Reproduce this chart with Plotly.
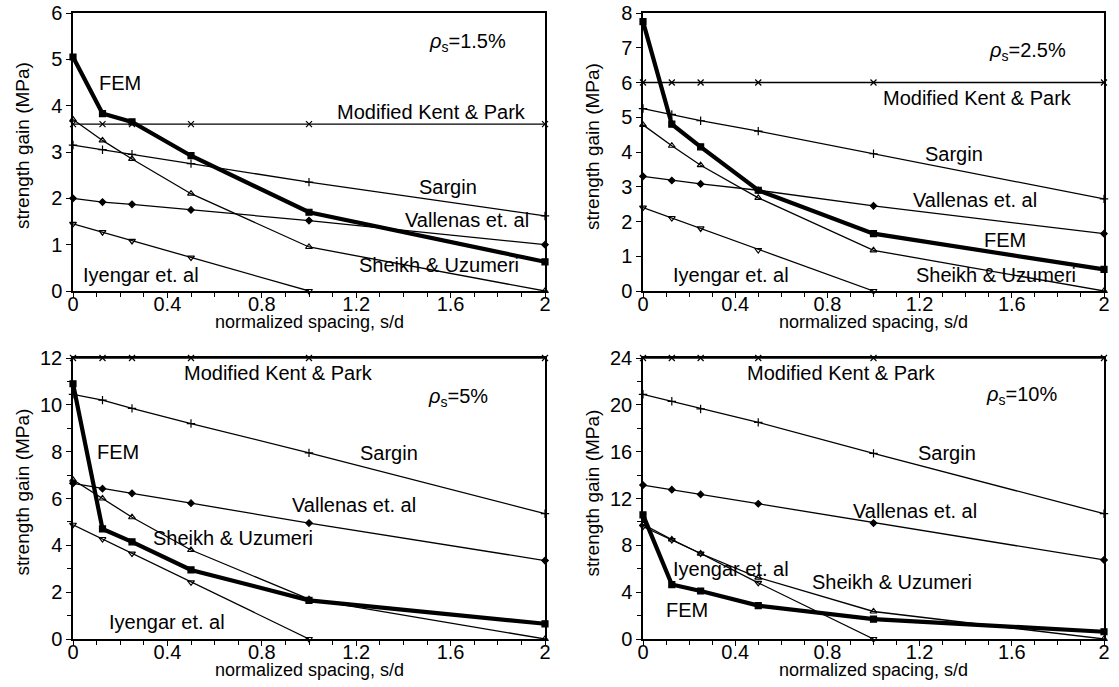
import plotly.graph_objects as go

# ---------------- data ----------------
s_d = [0, 0.125, 0.25, 0.5, 1, 2]
s_d_iyengar = [0, 0.125, 0.25, 0.5, 1]

x_tickvals = [0, 0.4, 0.8, 1.2, 1.6, 2]
x_ticktext = ["0", "0.4", "0.8", "1.2", "1.6", "2"]

rho_labels = ["1.5%", "2.5%", "5%", "10%"]
x_title = "normalized spacing, s/d"
y_title = "strength gain (MPa)"

# rho_s = 1.5 %
p1_kent = [3.6, 3.6, 3.6, 3.6, 3.6, 3.6]
p1_sargin = [3.15, 3.05, 2.95, 2.75, 2.35, 1.62]
p1_sheikh = [3.7, 3.25, 2.85, 2.1, 0.95, 0.0]
p1_vallenas = [2.0, 1.92, 1.87, 1.75, 1.52, 1.0]
p1_iyengar = [1.45, 1.27, 1.08, 0.72, 0.0]
p1_fem = [5.05, 3.83, 3.65, 2.92, 1.70, 0.63]

# rho_s = 2.5 %
p2_kent = [6.0, 6.0, 6.0, 6.0, 6.0, 6.0]
p2_sargin = [5.25, 5.08, 4.9, 4.6, 3.95, 2.65]
p2_sheikh = [4.78, 4.18, 3.62, 2.68, 1.17, 0.0]
p2_vallenas = [3.3, 3.18, 3.08, 2.9, 2.45, 1.65]
p2_iyengar = [2.4, 2.1, 1.8, 1.18, 0.0]
p2_fem = [7.75, 4.8, 4.15, 2.9, 1.65, 0.62]

# rho_s = 5 %
p3_kent = [12.0, 12.0, 12.0, 12.0, 12.0, 12.0]
p3_sargin = [10.45, 10.2, 9.85, 9.2, 7.95, 5.35]
p3_sheikh = [6.8, 6.0, 5.2, 3.8, 1.7, 0.0]
p3_vallenas = [6.65, 6.42, 6.22, 5.8, 4.95, 3.35]
p3_iyengar = [4.88, 4.27, 3.65, 2.42, 0.0]
p3_fem = [10.9, 4.7, 4.15, 2.95, 1.65, 0.65]

# rho_s = 10 %
p4_kent = [24.0, 24.0, 24.0, 24.0, 24.0, 24.0]
p4_sargin = [20.9, 20.3, 19.65, 18.5, 15.85, 10.7]
p4_sheikh = [9.8, 8.5, 7.3, 5.25, 2.35, 0.0]
p4_vallenas = [13.15, 12.75, 12.35, 11.55, 9.9, 6.75]
p4_iyengar = [9.6, 8.45, 7.3, 4.8, 0.0]
p4_fem = [10.6, 4.65, 4.1, 2.85, 1.7, 0.62]

panels = [
    dict(kent=p1_kent, sargin=p1_sargin, sheikh=p1_sheikh, vallenas=p1_vallenas,
         iyengar=p1_iyengar, fem=p1_fem),
    dict(kent=p2_kent, sargin=p2_sargin, sheikh=p2_sheikh, vallenas=p2_vallenas,
         iyengar=p2_iyengar, fem=p2_fem),
    dict(kent=p3_kent, sargin=p3_sargin, sheikh=p3_sheikh, vallenas=p3_vallenas,
         iyengar=p3_iyengar, fem=p3_fem),
    dict(kent=p4_kent, sargin=p4_sargin, sheikh=p4_sheikh, vallenas=p4_vallenas,
         iyengar=p4_iyengar, fem=p4_fem),
]

# label positions (data coords) per panel
label_pos = [
    {"rho": (1.67, 5.37), "FEM": (0.2, 4.49), "Modified Kent & Park": (1.52, 3.86),
     "Sargin": (1.59, 2.24), "Vallenas et. al": (1.67, 1.53),
     "Sheikh & Uzumeri": (1.55, 0.56), "Iyengar et. al": (0.29, 0.35)},
    {"rho": (1.67, 6.88), "FEM": (1.57, 1.47), "Modified Kent & Park": (1.45, 5.55),
     "Sargin": (1.35, 3.94), "Vallenas et. al": (1.44, 2.62),
     "Sheikh & Uzumeri": (1.53, 0.46), "Iyengar et. al": (0.38, 0.46)},
    {"rho": (1.63, 10.33), "FEM": (0.19, 8.0), "Modified Kent & Park": (0.87, 11.36),
     "Sargin": (1.34, 7.94), "Vallenas et. al": (1.19, 5.72),
     "Sheikh & Uzumeri": (0.68, 4.31), "Iyengar et. al": (0.4, 0.73)},
    {"rho": (1.64, 20.8), "FEM": (0.19, 2.48), "Modified Kent & Park": (0.86, 22.7),
     "Sargin": (1.32, 15.9), "Vallenas et. al": (1.18, 10.9),
     "Sheikh & Uzumeri": (1.08, 4.87), "Iyengar et. al": (0.38, 5.98)},
]

y_ranges = [[0, 6], [0, 8], [0, 12], [0, 24]]
y_dticks = [1, 1, 2, 4]
y_minor = [None, None, 1, 2]

W, H = 1119, 687


def px_x(p):
    return p / W


def px_y(p):
    return 1 - p / H


col_px = [(73, 545), (643, 1104)]
row_px = [(13, 291), (358, 639)]
x_domains = [[px_x(col_px[i % 2][0]), px_x(col_px[i % 2][1])] for i in range(4)]
y_domains = [[px_y(row_px[i // 2][1]), px_y(row_px[i // 2][0])] for i in range(4)]

FONT = "Liberation Sans, Arial, sans-serif"

series_style = {
    "kent": dict(symbol="x-thin-open", size=6, width=1.3),
    "sargin": dict(symbol="cross-thin-open", size=6, width=1.3),
    "sheikh": dict(symbol="triangle-up-open", size=6, width=1.3),
    "vallenas": dict(symbol="diamond", size=5, width=1.3),
    "iyengar": dict(symbol="triangle-down-open", size=6, width=1.3),
    "fem": dict(symbol="square", size=6, width=4.2),
}
series_names = {"kent": "Modified Kent & Park", "sargin": "Sargin", "sheikh": "Sheikh & Uzumeri",
                "vallenas": "Vallenas et. al", "iyengar": "Iyengar et. al", "fem": "FEM"}

fig = go.Figure()

for i, pdata in enumerate(panels):
    xa = "x" if i == 0 else f"x{i + 1}"
    ya = "y" if i == 0 else f"y{i + 1}"
    for key in ["kent", "sargin", "vallenas", "sheikh", "iyengar", "fem"]:
        st = series_style[key]
        xs = s_d_iyengar if key == "iyengar" else s_d
        fig.add_trace(go.Scatter(
            x=xs, y=pdata[key], mode="lines+markers", name=series_names[key],
            xaxis=xa, yaxis=ya, showlegend=False, cliponaxis=False,
            line=dict(color="black", width=st["width"]),
            marker=dict(symbol=st["symbol"], size=st["size"], color="black",
                        line=dict(color="black", width=1.2)),
        ))

    # axes
    xkey = "xaxis" if i == 0 else f"xaxis{i + 1}"
    ykey = "yaxis" if i == 0 else f"yaxis{i + 1}"
    xaxis = dict(
        domain=x_domains[i], anchor=ya, range=[0, 2], tickvals=x_tickvals, ticktext=x_ticktext,
        showline=True, mirror=True, linecolor="black", linewidth=1.5, showgrid=False,
        zeroline=False, ticks="outside", ticklen=5, tickwidth=1.3, tickcolor="black",
        minor=dict(dtick=0.1, tick0=0, ticks="outside", ticklen=4, tickwidth=1.2, tickcolor="black"),
        tickfont=dict(family=FONT, size=20, color="black"), automargin=False,
        ticklabelstandoff=-11,
    )
    yaxis = dict(
        domain=y_domains[i], anchor=xa, range=y_ranges[i], dtick=y_dticks[i], tick0=0,
        showline=True, mirror=True, linecolor="black", linewidth=1.5, showgrid=False,
        zeroline=False, ticks="outside", ticklen=5, tickwidth=1.3, tickcolor="black",
        tickfont=dict(family=FONT, size=20, color="black"), automargin=False,
    )
    if y_minor[i] is not None:
        yaxis["minor"] = dict(dtick=y_minor[i], tick0=0, ticks="outside", ticklen=4,
                              tickwidth=1.2, tickcolor="black")
    fig.update_layout({xkey: xaxis, ykey: yaxis})

    # axis titles (placed as paper annotations for exact positioning)
    cx = (col_px[i % 2][0] + col_px[i % 2][1]) / 2
    xt_y = row_px[i // 2][1] + 31
    fig.add_annotation(x=px_x(cx), y=px_y(xt_y), xref="paper", yref="paper", text=x_title,
                       showarrow=False, xanchor="center", yanchor="middle",
                       font=dict(family=FONT, size=18, color="black"))
    yt_x = col_px[i % 2][0] - 51
    yt_y = (row_px[i // 2][0] + row_px[i // 2][1]) / 2 - 6
    fig.add_annotation(x=px_x(yt_x), y=px_y(yt_y), xref="paper", yref="paper", text=y_title,
                       showarrow=False, xanchor="center", yanchor="middle", textangle=-90,
                       font=dict(family=FONT, size=19, color="black"))

    # curve labels
    for label, (lx, ly) in label_pos[i].items():
        if label == "rho":
            text = f"<i>ρ</i><sub>s</sub>=" + rho_labels[i]
        else:
            text = label
        fig.add_annotation(x=lx, y=ly, xref=xa, yref=ya, text=text, showarrow=False,
                           xanchor="center", yanchor="middle",
                           font=dict(family=FONT, size=20, color="black"))

fig.update_layout(
    width=W, height=H, margin=dict(l=0, r=0, t=0, b=0, autoexpand=False),
    paper_bgcolor="white", plot_bgcolor="white", showlegend=False,
)

fig.write_html("out.html", config={"displayModeBar": False},
               post_script="document.body.style.margin='0';")
